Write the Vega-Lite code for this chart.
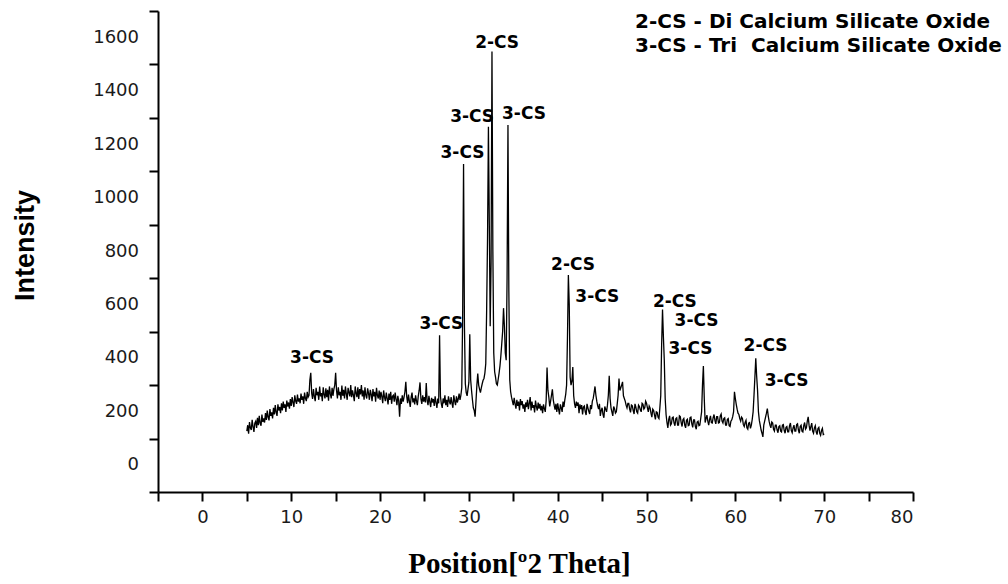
{
  "$schema": "https://vega.github.io/schema/vega-lite/v6.json",
  "width": 755,
  "height": 481,
  "autosize": {"type": "none"},
  "padding": {"left": 158, "top": 11, "right": 95, "bottom": 92},
  "background": "white",
  "config": {"view": {"stroke": null}},
  "datasets": {
    "xrd": [
      {"x":5.0,"y":128},{"x":5.1,"y":150},{"x":5.2,"y":118},{"x":5.3,"y":162},{"x":5.4,"y":140},{"x":5.5,"y":132},{"x":5.6,"y":170},{"x":5.7,"y":145},{"x":5.8,"y":125},{"x":5.9,"y":158},
      {"x":6.0,"y":165},{"x":6.1,"y":140},{"x":6.2,"y":178},{"x":6.3,"y":150},{"x":6.4,"y":185},{"x":6.5,"y":158},{"x":6.6,"y":148},{"x":6.7,"y":190},{"x":6.8,"y":162},{"x":6.9,"y":175},
      {"x":7.0,"y":160},{"x":7.1,"y":195},{"x":7.2,"y":170},{"x":7.3,"y":205},{"x":7.4,"y":180},{"x":7.5,"y":168},{"x":7.6,"y":210},{"x":7.7,"y":185},{"x":7.8,"y":198},{"x":7.9,"y":175},
      {"x":8.0,"y":215},{"x":8.1,"y":190},{"x":8.2,"y":225},{"x":8.3,"y":198},{"x":8.4,"y":185},{"x":8.5,"y":228},{"x":8.6,"y":205},{"x":8.7,"y":218},{"x":8.8,"y":195},{"x":8.9,"y":232},
      {"x":9.0,"y":205},{"x":9.1,"y":238},{"x":9.2,"y":215},{"x":9.3,"y":228},{"x":9.4,"y":200},{"x":9.5,"y":242},{"x":9.6,"y":220},{"x":9.7,"y":235},{"x":9.8,"y":212},{"x":9.9,"y":248},
      {"x":10.0,"y":222},{"x":10.1,"y":255},{"x":10.2,"y":235},{"x":10.3,"y":218},{"x":10.4,"y":262},{"x":10.5,"y":240},{"x":10.6,"y":230},{"x":10.7,"y":265},{"x":10.8,"y":238},{"x":10.9,"y":250},
      {"x":11.0,"y":232},{"x":11.1,"y":268},{"x":11.2,"y":245},{"x":11.3,"y":258},{"x":11.4,"y":230},{"x":11.5,"y":272},{"x":11.6,"y":250},{"x":11.7,"y":240},{"x":11.8,"y":275},{"x":11.9,"y":255},
      {"x":12.0,"y":262},{"x":12.1,"y":320},{"x":12.2,"y":346},{"x":12.3,"y":270},{"x":12.4,"y":248},{"x":12.5,"y":285},{"x":12.6,"y":258},{"x":12.7,"y":240},{"x":12.8,"y":290},{"x":12.9,"y":262},
      {"x":13.0,"y":275},{"x":13.1,"y":245},{"x":13.2,"y":295},{"x":13.3,"y":258},{"x":13.4,"y":270},{"x":13.5,"y":240},{"x":13.6,"y":292},{"x":13.7,"y":265},{"x":13.8,"y":250},{"x":13.9,"y":288},
      {"x":14.0,"y":255},{"x":14.1,"y":282},{"x":14.2,"y":242},{"x":14.3,"y":295},{"x":14.4,"y":268},{"x":14.5,"y":250},{"x":14.6,"y":290},{"x":14.7,"y":260},{"x":14.8,"y":285},{"x":14.9,"y":300},
      {"x":15.0,"y":346},{"x":15.1,"y":280},{"x":15.2,"y":250},{"x":15.3,"y":292},{"x":15.4,"y":262},{"x":15.5,"y":275},{"x":15.6,"y":245},{"x":15.7,"y":298},{"x":15.8,"y":260},{"x":15.9,"y":282},
      {"x":16.0,"y":250},{"x":16.1,"y":295},{"x":16.2,"y":268},{"x":16.3,"y":245},{"x":16.4,"y":290},{"x":16.5,"y":272},{"x":16.6,"y":258},{"x":16.7,"y":300},{"x":16.8,"y":255},{"x":16.9,"y":280},
      {"x":17.0,"y":262},{"x":17.1,"y":240},{"x":17.2,"y":295},{"x":17.3,"y":270},{"x":17.4,"y":255},{"x":17.5,"y":292},{"x":17.6,"y":248},{"x":17.7,"y":285},{"x":17.8,"y":265},{"x":17.9,"y":300},
      {"x":18.0,"y":258},{"x":18.1,"y":280},{"x":18.2,"y":245},{"x":18.3,"y":292},{"x":18.4,"y":262},{"x":18.5,"y":250},{"x":18.6,"y":288},{"x":18.7,"y":270},{"x":18.8,"y":245},{"x":18.9,"y":282},
      {"x":19.0,"y":265},{"x":19.1,"y":240},{"x":19.2,"y":285},{"x":19.3,"y":258},{"x":19.4,"y":275},{"x":19.5,"y":238},{"x":19.6,"y":290},{"x":19.7,"y":262},{"x":19.8,"y":250},{"x":19.9,"y":280},
      {"x":20.0,"y":245},{"x":20.1,"y":275},{"x":20.2,"y":258},{"x":20.3,"y":232},{"x":20.4,"y":280},{"x":20.5,"y":255},{"x":20.6,"y":240},{"x":20.7,"y":272},{"x":20.8,"y":250},{"x":20.9,"y":228},
      {"x":21.0,"y":268},{"x":21.1,"y":245},{"x":21.2,"y":275},{"x":21.3,"y":230},{"x":21.4,"y":258},{"x":21.5,"y":262},{"x":21.6,"y":238},{"x":21.7,"y":272},{"x":21.8,"y":248},{"x":21.9,"y":225},
      {"x":22.0,"y":260},{"x":22.1,"y":240},{"x":22.2,"y":182},{"x":22.3,"y":250},{"x":22.4,"y":230},{"x":22.5,"y":262},{"x":22.6,"y":238},{"x":22.7,"y":255},{"x":22.8,"y":275},{"x":22.9,"y":312},
      {"x":23.0,"y":258},{"x":23.1,"y":232},{"x":23.2,"y":265},{"x":23.3,"y":240},{"x":23.4,"y":218},{"x":23.5,"y":255},{"x":23.6,"y":272},{"x":23.7,"y":235},{"x":23.8,"y":250},{"x":23.9,"y":228},
      {"x":24.0,"y":262},{"x":24.1,"y":240},{"x":24.2,"y":225},{"x":24.3,"y":258},{"x":24.4,"y":280},{"x":24.5,"y":310},{"x":24.6,"y":248},{"x":24.7,"y":230},{"x":24.8,"y":262},{"x":24.9,"y":238},
      {"x":25.0,"y":255},{"x":25.1,"y":235},{"x":25.2,"y":308},{"x":25.3,"y":242},{"x":25.4,"y":225},{"x":25.5,"y":260},{"x":25.6,"y":238},{"x":25.7,"y":218},{"x":25.8,"y":252},{"x":25.9,"y":235},
      {"x":26.0,"y":248},{"x":26.1,"y":222},{"x":26.2,"y":258},{"x":26.3,"y":235},{"x":26.4,"y":215},{"x":26.5,"y":250},{"x":26.6,"y":232},{"x":26.7,"y":487},{"x":26.8,"y":258},{"x":26.9,"y":230},
      {"x":27.0,"y":215},{"x":27.1,"y":250},{"x":27.2,"y":232},{"x":27.3,"y":262},{"x":27.4,"y":225},{"x":27.5,"y":245},{"x":27.6,"y":218},{"x":27.7,"y":258},{"x":27.8,"y":240},{"x":27.9,"y":228},
      {"x":28.0,"y":255},{"x":28.1,"y":232},{"x":28.2,"y":215},{"x":28.3,"y":262},{"x":28.4,"y":240},{"x":28.5,"y":225},{"x":28.6,"y":258},{"x":28.7,"y":235},{"x":28.8,"y":248},{"x":28.9,"y":268},
      {"x":29.0,"y":245},{"x":29.1,"y":262},{"x":29.2,"y":290},{"x":29.3,"y":560},{"x":29.4,"y":1127},{"x":29.5,"y":520},{"x":29.6,"y":305},{"x":29.7,"y":272},{"x":29.8,"y":260},{"x":29.9,"y":285},
      {"x":30.0,"y":310},{"x":30.1,"y":490},{"x":30.2,"y":320},{"x":30.3,"y":280},{"x":30.4,"y":245},{"x":30.5,"y":215},{"x":30.6,"y":205},{"x":30.7,"y":182},{"x":30.8,"y":240},{"x":30.9,"y":300},
      {"x":31.0,"y":343},{"x":31.1,"y":300},{"x":31.2,"y":285},{"x":31.3,"y":272},{"x":31.4,"y":290},{"x":31.5,"y":305},{"x":31.6,"y":318},{"x":31.7,"y":325},{"x":31.8,"y":345},{"x":31.9,"y":380},
      {"x":32.0,"y":580},{"x":32.1,"y":850},{"x":32.2,"y":1267},{"x":32.3,"y":900},{"x":32.4,"y":520},{"x":32.5,"y":760},{"x":32.6,"y":1548},{"x":32.7,"y":800},{"x":32.8,"y":420},{"x":32.9,"y":350},
      {"x":33.0,"y":330},{"x":33.1,"y":305},{"x":33.2,"y":300},{"x":33.3,"y":322},{"x":33.4,"y":345},{"x":33.5,"y":372},{"x":33.6,"y":410},{"x":33.7,"y":455},{"x":33.8,"y":500},{"x":33.9,"y":588},
      {"x":34.0,"y":520},{"x":34.1,"y":420},{"x":34.2,"y":393},{"x":34.3,"y":700},{"x":34.4,"y":1273},{"x":34.5,"y":650},{"x":34.6,"y":320},{"x":34.7,"y":275},{"x":34.8,"y":255},{"x":34.9,"y":240},
      {"x":35.0,"y":225},{"x":35.1,"y":252},{"x":35.2,"y":230},{"x":35.3,"y":212},{"x":35.4,"y":245},{"x":35.5,"y":222},{"x":35.6,"y":238},{"x":35.7,"y":205},{"x":35.8,"y":248},{"x":35.9,"y":225},
      {"x":36.0,"y":240},{"x":36.1,"y":212},{"x":36.2,"y":228},{"x":36.3,"y":200},{"x":36.4,"y":235},{"x":36.5,"y":218},{"x":36.6,"y":245},{"x":36.7,"y":210},{"x":36.8,"y":232},{"x":36.9,"y":255},
      {"x":37.0,"y":205},{"x":37.1,"y":238},{"x":37.2,"y":215},{"x":37.3,"y":225},{"x":37.4,"y":198},{"x":37.5,"y":242},{"x":37.6,"y":220},{"x":37.7,"y":205},{"x":37.8,"y":235},{"x":37.9,"y":212},
      {"x":38.0,"y":230},{"x":38.1,"y":205},{"x":38.2,"y":222},{"x":38.3,"y":195},{"x":38.4,"y":228},{"x":38.5,"y":212},{"x":38.6,"y":200},{"x":38.7,"y":242},{"x":38.8,"y":366},{"x":38.9,"y":280},
      {"x":39.0,"y":255},{"x":39.1,"y":220},{"x":39.2,"y":240},{"x":39.3,"y":262},{"x":39.4,"y":284},{"x":39.5,"y":245},{"x":39.6,"y":225},{"x":39.7,"y":208},{"x":39.8,"y":230},{"x":39.9,"y":200},
      {"x":40.0,"y":232},{"x":40.1,"y":210},{"x":40.2,"y":190},{"x":40.3,"y":228},{"x":40.4,"y":215},{"x":40.5,"y":200},{"x":40.6,"y":238},{"x":40.7,"y":218},{"x":40.8,"y":245},{"x":40.9,"y":265},
      {"x":41.0,"y":300},{"x":41.1,"y":480},{"x":41.2,"y":712},{"x":41.3,"y":600},{"x":41.4,"y":330},{"x":41.5,"y":300},{"x":41.6,"y":315},{"x":41.7,"y":368},{"x":41.8,"y":260},{"x":41.9,"y":230},
      {"x":42.0,"y":215},{"x":42.1,"y":238},{"x":42.2,"y":222},{"x":42.3,"y":235},{"x":42.4,"y":195},{"x":42.5,"y":228},{"x":42.6,"y":210},{"x":42.7,"y":225},{"x":42.8,"y":190},{"x":42.9,"y":218},
      {"x":43.0,"y":222},{"x":43.1,"y":200},{"x":43.2,"y":188},{"x":43.3,"y":230},{"x":43.4,"y":215},{"x":43.5,"y":202},{"x":43.6,"y":192},{"x":43.7,"y":225},{"x":43.8,"y":210},{"x":43.9,"y":240},
      {"x":44.0,"y":250},{"x":44.1,"y":272},{"x":44.2,"y":295},{"x":44.3,"y":262},{"x":44.4,"y":240},{"x":44.5,"y":222},{"x":44.6,"y":210},{"x":44.7,"y":230},{"x":44.8,"y":185},{"x":44.9,"y":205},
      {"x":45.0,"y":215},{"x":45.1,"y":190},{"x":45.2,"y":178},{"x":45.3,"y":220},{"x":45.4,"y":210},{"x":45.5,"y":200},{"x":45.6,"y":225},{"x":45.7,"y":262},{"x":45.8,"y":335},{"x":45.9,"y":250},
      {"x":46.0,"y":215},{"x":46.1,"y":200},{"x":46.2,"y":185},{"x":46.3,"y":220},{"x":46.4,"y":212},{"x":46.5,"y":195},{"x":46.6,"y":200},{"x":46.7,"y":230},{"x":46.8,"y":262},{"x":46.9,"y":325},
      {"x":47.0,"y":280},{"x":47.1,"y":290},{"x":47.2,"y":300},{"x":47.3,"y":312},{"x":47.4,"y":260},{"x":47.5,"y":250},{"x":47.6,"y":240},{"x":47.7,"y":225},{"x":47.8,"y":215},{"x":47.9,"y":232},
      {"x":48.0,"y":232},{"x":48.1,"y":210},{"x":48.2,"y":198},{"x":48.3,"y":225},{"x":48.4,"y":222},{"x":48.5,"y":205},{"x":48.6,"y":192},{"x":48.7,"y":230},{"x":48.8,"y":218},{"x":48.9,"y":200},
      {"x":49.0,"y":195},{"x":49.1,"y":225},{"x":49.2,"y":220},{"x":49.3,"y":208},{"x":49.4,"y":200},{"x":49.5,"y":232},{"x":49.6,"y":228},{"x":49.7,"y":210},{"x":49.8,"y":215},{"x":49.9,"y":240},
      {"x":50.0,"y":232},{"x":50.1,"y":215},{"x":50.2,"y":200},{"x":50.3,"y":222},{"x":50.4,"y":215},{"x":50.5,"y":195},{"x":50.6,"y":180},{"x":50.7,"y":210},{"x":50.8,"y":205},{"x":50.9,"y":188},
      {"x":51.0,"y":172},{"x":51.1,"y":200},{"x":51.2,"y":198},{"x":51.3,"y":180},{"x":51.4,"y":175},{"x":51.5,"y":215},{"x":51.6,"y":260},{"x":51.7,"y":450},{"x":51.8,"y":583},{"x":51.9,"y":480},
      {"x":52.0,"y":393},{"x":52.1,"y":250},{"x":52.2,"y":190},{"x":52.3,"y":160},{"x":52.4,"y":140},{"x":52.5,"y":172},{"x":52.6,"y":185},{"x":52.7,"y":150},{"x":52.8,"y":155},{"x":52.9,"y":178},
      {"x":53.0,"y":180},{"x":53.1,"y":158},{"x":53.2,"y":148},{"x":53.3,"y":175},{"x":53.4,"y":178},{"x":53.5,"y":150},{"x":53.6,"y":150},{"x":53.7,"y":185},{"x":53.8,"y":182},{"x":53.9,"y":160},
      {"x":54.0,"y":145},{"x":54.1,"y":170},{"x":54.2,"y":175},{"x":54.3,"y":150},{"x":54.4,"y":140},{"x":54.5,"y":168},{"x":54.6,"y":172},{"x":54.7,"y":148},{"x":54.8,"y":150},{"x":54.9,"y":178},
      {"x":55.0,"y":180},{"x":55.1,"y":155},{"x":55.2,"y":142},{"x":55.3,"y":170},{"x":55.4,"y":170},{"x":55.5,"y":145},{"x":55.6,"y":135},{"x":55.7,"y":162},{"x":55.8,"y":165},{"x":55.9,"y":148},
      {"x":56.0,"y":150},{"x":56.1,"y":175},{"x":56.2,"y":200},{"x":56.3,"y":300},{"x":56.4,"y":371},{"x":56.5,"y":250},{"x":56.6,"y":160},{"x":56.7,"y":175},{"x":56.8,"y":188},{"x":56.9,"y":165},
      {"x":57.0,"y":150},{"x":57.1,"y":172},{"x":57.2,"y":185},{"x":57.3,"y":160},{"x":57.4,"y":158},{"x":57.5,"y":178},{"x":57.6,"y":190},{"x":57.7,"y":168},{"x":57.8,"y":155},{"x":57.9,"y":182},
      {"x":58.0,"y":182},{"x":58.1,"y":158},{"x":58.2,"y":160},{"x":58.3,"y":185},{"x":58.4,"y":192},{"x":58.5,"y":165},{"x":58.6,"y":158},{"x":58.7,"y":175},{"x":58.8,"y":178},{"x":58.9,"y":150},
      {"x":59.0,"y":150},{"x":59.1,"y":172},{"x":59.2,"y":175},{"x":59.3,"y":148},{"x":59.4,"y":145},{"x":59.5,"y":165},{"x":59.6,"y":170},{"x":59.7,"y":182},{"x":59.8,"y":200},{"x":59.9,"y":275},
      {"x":60.0,"y":250},{"x":60.1,"y":228},{"x":60.2,"y":210},{"x":60.3,"y":195},{"x":60.4,"y":190},{"x":60.5,"y":175},{"x":60.6,"y":165},{"x":60.7,"y":180},{"x":60.8,"y":175},{"x":60.9,"y":152},
      {"x":61.0,"y":145},{"x":61.1,"y":160},{"x":61.2,"y":168},{"x":61.3,"y":140},{"x":61.4,"y":135},{"x":61.5,"y":158},{"x":61.6,"y":160},{"x":61.7,"y":138},{"x":61.8,"y":150},{"x":61.9,"y":172},
      {"x":62.0,"y":200},{"x":62.1,"y":262},{"x":62.2,"y":330},{"x":62.3,"y":400},{"x":62.4,"y":333},{"x":62.5,"y":280},{"x":62.6,"y":200},{"x":62.7,"y":168},{"x":62.8,"y":150},{"x":62.9,"y":132},
      {"x":63.0,"y":120},{"x":63.1,"y":106},{"x":63.2,"y":150},{"x":63.3,"y":165},{"x":63.4,"y":180},{"x":63.5,"y":195},{"x":63.6,"y":212},{"x":63.7,"y":185},{"x":63.8,"y":165},{"x":63.9,"y":150},
      {"x":64.0,"y":140},{"x":64.1,"y":162},{"x":64.2,"y":158},{"x":64.3,"y":135},{"x":64.4,"y":128},{"x":64.5,"y":150},{"x":64.6,"y":150},{"x":64.7,"y":132},{"x":64.8,"y":122},{"x":64.9,"y":145},
      {"x":65.0,"y":148},{"x":65.1,"y":128},{"x":65.2,"y":125},{"x":65.3,"y":150},{"x":65.4,"y":152},{"x":65.5,"y":130},{"x":65.6,"y":120},{"x":65.7,"y":142},{"x":65.8,"y":145},{"x":65.9,"y":125},
      {"x":66.0,"y":125},{"x":66.1,"y":148},{"x":66.2,"y":158},{"x":66.3,"y":130},{"x":66.4,"y":122},{"x":66.5,"y":140},{"x":66.6,"y":150},{"x":66.7,"y":128},{"x":66.8,"y":128},{"x":66.9,"y":152},
      {"x":67.0,"y":155},{"x":67.1,"y":132},{"x":67.2,"y":120},{"x":67.3,"y":145},{"x":67.4,"y":150},{"x":67.5,"y":128},{"x":67.6,"y":125},{"x":67.7,"y":148},{"x":67.8,"y":160},{"x":67.9,"y":135},
      {"x":68.0,"y":140},{"x":68.1,"y":165},{"x":68.2,"y":181},{"x":68.3,"y":150},{"x":68.4,"y":130},{"x":68.5,"y":145},{"x":68.6,"y":158},{"x":68.7,"y":128},{"x":68.8,"y":120},{"x":68.9,"y":140},
      {"x":69.0,"y":148},{"x":69.1,"y":125},{"x":69.2,"y":115},{"x":69.3,"y":138},{"x":69.4,"y":142},{"x":69.5,"y":120},{"x":69.6,"y":112},{"x":69.7,"y":130},{"x":69.8,"y":138},{"x":69.9,"y":115},
      {"x":70.0,"y":118}
    ],
    "peaks": [
      {"x":12.34,"y":403,"label":"3-CS"},
      {"x":26.9,"y":528,"label":"3-CS"},
      {"x":29.28,"y":1170,"label":"3-CS"},
      {"x":30.36,"y":1304,"label":"3-CS"},
      {"x":33.18,"y":1582,"label":"2-CS"},
      {"x":36.2,"y":1315,"label":"3-CS"},
      {"x":41.73,"y":749,"label":"2-CS"},
      {"x":44.46,"y":629,"label":"3-CS"},
      {"x":53.19,"y":612,"label":"2-CS"},
      {"x":55.63,"y":541,"label":"3-CS"},
      {"x":54.95,"y":435,"label":"3-CS"},
      {"x":63.4,"y":448,"label":"2-CS"},
      {"x":65.77,"y":316,"label":"3-CS"}
    ],
    "legend": [
      {"x":48.7,"y":1659,"label":"2-CS - Di Calcium Silicate Oxide"},
      {"x":48.7,"y":1569,"label":"3-CS - Tri \u00a0Calcium Silicate Oxide"}
    ],
    "ylabels": [
      {"x":-5,"y":0,"label":"0"},
      {"x":-5,"y":200,"label":"200"},
      {"x":-5,"y":400,"label":"400"},
      {"x":-5,"y":600,"label":"600"},
      {"x":-5,"y":800,"label":"800"},
      {"x":-5,"y":1000,"label":"1000"},
      {"x":-5,"y":1200,"label":"1200"},
      {"x":-5,"y":1400,"label":"1400"},
      {"x":-5,"y":1600,"label":"1600"}
    ]
  },
  "layer": [
    {
      "data": {"name": "xrd"},
      "mark": {"type": "line", "color": "black", "strokeWidth": 1.3, "clip": true},
      "encoding": {
        "x": {
          "field": "x", "type": "quantitative",
          "scale": {"domain": [-5, 80], "nice": false, "zero": false},
          "axis": {
            "values": [-5,0,5,10,15,20,25,30,35,40,45,50,55,60,65,70,75,80],
            "labelExpr": "datum.value % 10 === 0 ? datum.label : ''",
            "format": "d",
            "labelOverlap": false,
            "grid": false,
            "domainColor": "black", "domainWidth": 2,
            "tickColor": "black", "tickWidth": 2, "tickSize": 9,
            "labelFont": "DejaVu Sans", "labelFontSize": 18, "labelColor": "#1a1a1a", "labelPadding": 7,
            "title": "Position[º2 Theta]",
            "titleFont": "Liberation Serif", "titleFontSize": 29, "titleFontWeight": "bold", "titleColor": "black",
            "titleX": 361, "titleY": 80, "titleBaseline": "alphabetic", "titleAlign": "center"
          }
        },
        "y": {
          "field": "y", "type": "quantitative",
          "scale": {"domain": [-100, 1700], "nice": false, "zero": false},
          "axis": {
            "values": [-100,0,100,200,300,400,500,600,700,800,900,1000,1100,1200,1300,1400,1500,1600,1700],
            "labels": false,
            "grid": false,
            "domainColor": "black", "domainWidth": 2,
            "tickColor": "black", "tickWidth": 2, "tickSize": 9,
            "title": "Intensity",
            "titleFont": "Liberation Sans", "titleFontSize": 27, "titleFontWeight": "bold", "titleColor": "black",
            "titleX": -125, "titleY": 234, "titleBaseline": "alphabetic", "titleAlign": "center", "titleAngle": -90
          }
        }
      }
    },
    {
      "data": {"name": "ylabels"},
      "mark": {"type": "text", "font": "DejaVu Sans", "fontSize": 18, "color": "#1a1a1a", "align": "right", "baseline": "middle", "dx": -19},
      "encoding": {
        "x": {"field": "x", "type": "quantitative"},
        "y": {"field": "y", "type": "quantitative"},
        "text": {"field": "label"}
      }
    },
    {
      "data": {"name": "peaks"},
      "mark": {"type": "text", "font": "DejaVu Sans", "fontWeight": "bold", "fontSize": 17, "color": "black", "align": "center", "baseline": "middle"},
      "encoding": {
        "x": {"field": "x", "type": "quantitative"},
        "y": {"field": "y", "type": "quantitative"},
        "text": {"field": "label"}
      }
    },
    {
      "data": {"name": "legend"},
      "mark": {"type": "text", "font": "DejaVu Sans", "fontWeight": "bold", "fontSize": 20, "color": "black", "align": "left", "baseline": "middle"},
      "encoding": {
        "x": {"field": "x", "type": "quantitative"},
        "y": {"field": "y", "type": "quantitative"},
        "text": {"field": "label"}
      }
    }
  ]
}
